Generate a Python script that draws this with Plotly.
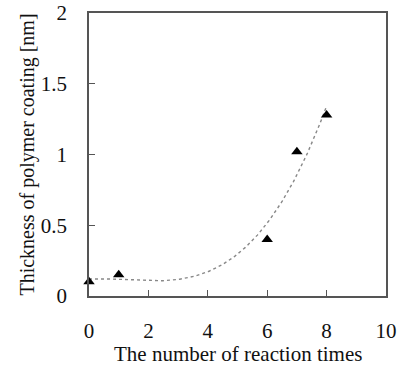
import numpy as np
import plotly.graph_objects as go

# Measured coating thickness after each reaction cycle
reaction_times = [0, 1, 6, 7, 8]
thickness_nm = [0.10, 0.15, 0.40, 1.02, 1.28]

x_ticks = [0, 2, 4, 6, 8, 10]
y_ticks = [0, 0.5, 1, 1.5, 2]
y_tick_text = ["0", "0.5", "1", "1.5", "2"]

x_title = "The number of reaction times"
y_title = "Thickness of polymer coating [nm]"

# Polynomial trend line fitted to the measurements
coef = np.polyfit(reaction_times, thickness_nm, 3)
xs = np.linspace(0, 8, 200)
ys = np.polyval(coef, xs)

font = "Liberation Serif, Times New Roman, serif"
axis_color = "#555555"
plot_h = 368 - 13 - 72

fig = go.Figure()
fig.add_trace(go.Scatter(
    x=xs, y=ys, mode="lines",
    line=dict(color="#888888", width=1.4, dash="dot"),
    hoverinfo="skip", showlegend=False,
))
fig.add_trace(go.Scatter(
    x=reaction_times, y=thickness_nm, mode="markers",
    marker=dict(symbol="triangle-up", size=10, color="black"),
    cliponaxis=False, showlegend=False,
))

fig.update_layout(
    width=401, height=368,
    margin=dict(l=89, r=15, t=13, b=72),
    paper_bgcolor="white", plot_bgcolor="white",
    font=dict(family=font, size=21, color="#111111"),
)
fig.update_xaxes(
    range=[0, 10], tickvals=x_ticks, ticks="inside", ticklen=6,
    tickcolor=axis_color, showline=True, linecolor=axis_color, linewidth=1.5,
    mirror=True, showgrid=False, zeroline=False, ticklabelstandoff=15,
    tickfont=dict(family=font, size=21), automargin=False,
)
fig.update_yaxes(
    range=[0, 2], tickvals=y_ticks, ticktext=y_tick_text, ticks="inside",
    ticklen=6, tickcolor=axis_color, showline=True, linecolor=axis_color,
    linewidth=1.5, mirror=True, showgrid=False, zeroline=False,
    ticklabelstandoff=16, tickfont=dict(family=font, size=21),
    automargin=False,
    title=dict(text=y_title, standoff=1, font=dict(family=font, size=20)),
)

# x-axis title placed just under the tick labels
fig.add_annotation(
    text=x_title, xref="paper", yref="paper", x=0.5, y=-58 / plot_h,
    xanchor="center", yanchor="middle", showarrow=False,
    font=dict(family=font, size=21, color="#111111"),
)

fig.write_html("out.html")
